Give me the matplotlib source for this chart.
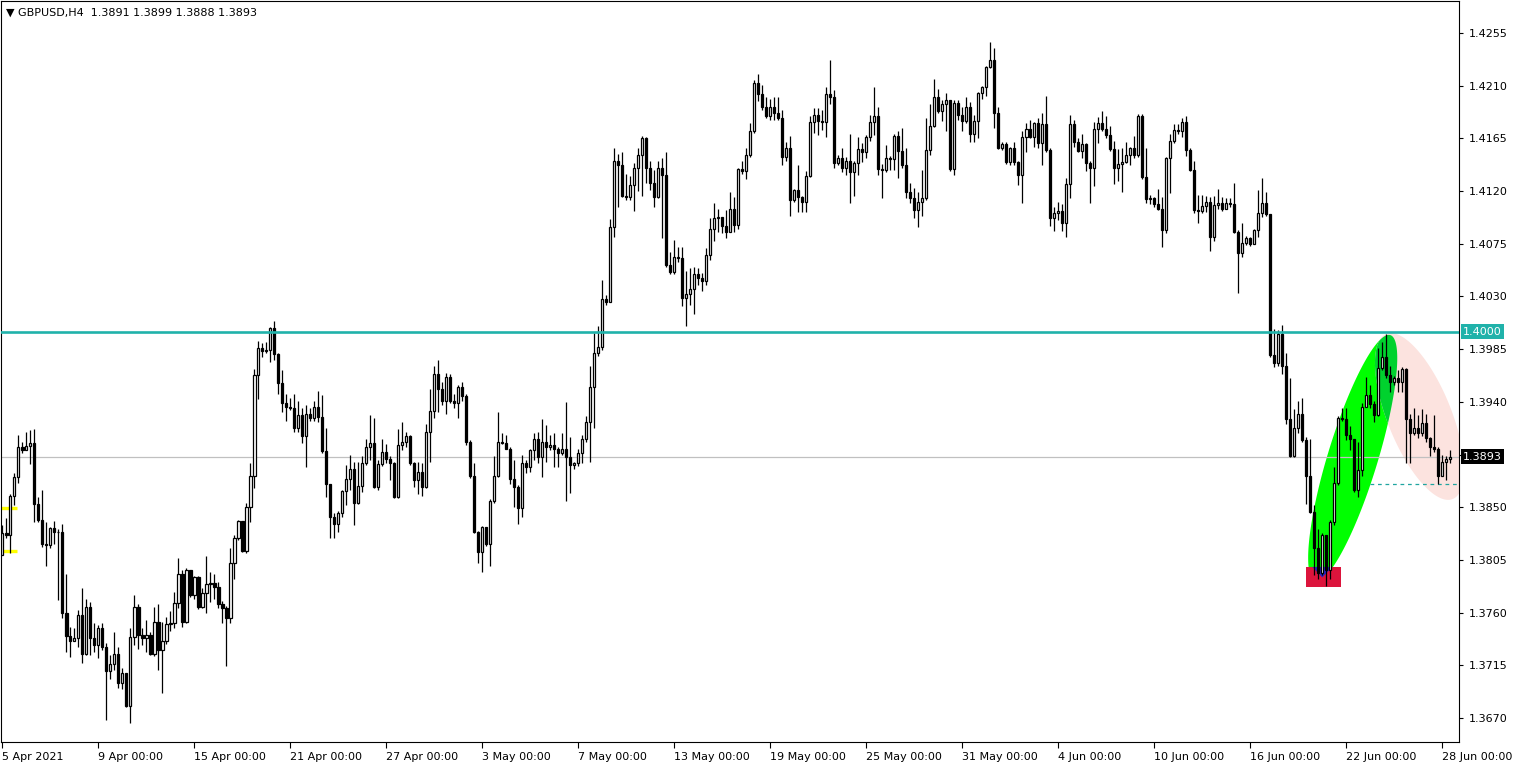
import numpy as np
import matplotlib
matplotlib.use("Agg")
import matplotlib.pyplot as plt
from matplotlib.patches import Polygon, Rectangle
import matplotlib.transforms as mtransforms

# ---------------- data (prices in units of 0.0001) ----------------
symbol = "GBPUSD,H4"
header_ohlc = ["1.3891", "1.3899", "1.3888", "1.3893"]
first_open = 13809

closes = [
13828,13826,13860,13876,13901,13899,13902,13905,13853,13839,
13819,13818,13832,13829,13829,13760,13740,13736,13738,13758,
13725,13765,13738,13732,13747,13731,13710,13716,13725,13700,
13708,13680,13739,13765,13741,13738,13741,13725,13752,13728,
13736,13750,13751,13768,13793,13752,13796,13775,13790,13765,
13777,13784,13785,13782,13767,13764,13755,13802,13824,13838,
13813,13850,13877,13963,13986,13983,13984,14003,13981,13956,
13939,13936,13935,13918,13929,13911,13930,13926,13936,13927,
13898,13870,13842,13836,13845,13864,13874,13883,13854,13868,
13888,13901,13905,13867,13887,13897,13891,13888,13859,13903,
13906,13911,13888,13873,13880,13867,13914,13932,13964,13951,
13941,13961,13941,13939,13953,13945,13906,13877,13829,13812,
13833,13819,13855,13877,13906,13905,13900,13874,13867,13849,
13888,13884,13899,13908,13893,13906,13901,13903,13900,13896,
13900,13893,13886,13888,13896,13908,13923,13953,13982,13987,
14028,14025,14089,14146,14142,14116,14115,14125,14140,14151,
14165,14140,14127,14115,14140,14134,14057,14051,14064,14063,
14029,14032,14036,14049,14046,14043,14065,14088,14097,14098,
14090,14085,14105,14091,14139,14137,14151,14171,14212,14203,
14192,14184,14192,14187,14182,14149,14157,14112,14121,14115,
14111,14133,14179,14185,14180,14179,14203,14200,14144,14148,
14140,14146,14136,14144,14156,14153,14166,14179,14184,14139,
14138,14148,14147,14167,14154,14142,14119,14114,14104,14111,
14114,14155,14176,14200,14188,14194,14198,14139,14195,14185,
14180,14192,14169,14180,14204,14209,14226,14232,14187,14157,
14160,14145,14157,14145,14134,14166,14173,14166,14178,14161,
14177,14155,14097,14101,14103,14093,14126,14177,14162,14154,
14160,14144,14140,14173,14178,14173,14168,14156,14140,14143,
14145,14151,14157,14151,14184,14132,14113,14114,14109,14105,
14087,14148,14163,14172,14171,14179,14155,14138,14104,14103,
14107,14111,14081,14108,14110,14105,14110,14109,14085,14067,
14076,14080,14075,14087,14101,14110,14100,13980,13973,13998,
13971,13925,13894,13918,13930,13907,13877,13846,13815,13794,
13826,13796,13837,13871,13926,13925,13912,13908,13865,13882,
13936,13946,13938,13929,13969,13978,13963,13957,13960,13957,
13968,13925,13913,13918,13913,13922,13909,13901,13900,13877,
13889,13891,13893]

highs = [
13835,13841,13861,13879,13912,13906,13914,13916,13917,13859,
13865,13837,13833,13838,13831,13836,13793,13748,13747,13762,
13781,13772,13769,13751,13749,13751,13734,13724,13743,13731,
13713,13708,13747,13775,13767,13747,13754,13743,13765,13767,
13752,13756,13761,13778,13807,13796,13798,13796,13791,13791,
13781,13808,13795,13793,13786,13770,13766,13815,13826,13839,
13835,13854,13888,13968,13992,13990,13991,14004,14009,13982,
13967,13947,13943,13947,13941,13935,13937,13935,13941,13949,
13946,13918,13870,13845,13847,13865,13886,13895,13889,13889,
13894,13908,13929,13926,13890,13908,13904,13894,13889,13917,
13923,13914,13912,13889,13889,13888,13921,13951,13971,13976,
13957,13965,13964,13947,13954,13957,13947,13907,13888,13830,
13834,13833,13857,13894,13931,13913,13912,13901,13890,13869,
13895,13890,13900,13913,13914,13925,13920,13912,13913,13901,
13913,13940,13910,13889,13900,13912,13928,13971,13999,14005,
14044,14031,14096,14157,14152,14153,14135,14133,14144,14157,
14167,14166,14146,14138,14146,14148,14153,14068,14078,14072,
14072,14052,14054,14055,14054,14050,14071,14097,14110,14105,
14098,14104,14119,14115,14140,14146,14157,14178,14215,14220,
14211,14200,14199,14200,14200,14189,14162,14167,14122,14142,
14116,14137,14184,14191,14191,14189,14209,14232,14206,14151,
14157,14149,14169,14146,14166,14161,14168,14185,14209,14192,
14143,14159,14150,14169,14171,14174,14157,14127,14123,14119,
14138,14182,14194,14216,14207,14198,14204,14198,14198,14198,
14192,14200,14196,14185,14205,14210,14227,14247,14242,14192,
14162,14162,14158,14162,14146,14171,14178,14181,14179,14182,
14187,14201,14157,14106,14111,14109,14131,14185,14181,14165,
14169,14161,14146,14179,14183,14188,14184,14176,14163,14156,
14157,14162,14158,14167,14186,14186,14157,14117,14115,14122,
14115,14149,14169,14177,14177,14182,14184,14157,14146,14117,
14117,14116,14115,14116,14122,14115,14114,14114,14127,14087,
14093,14082,14081,14088,14121,14131,14119,14100,14002,14001,
14006,13982,13960,13934,13941,13943,13910,13908,13852,13831,
13828,13826,13839,13884,13928,13935,13935,13919,13908,13906,
13939,13961,13954,13941,13986,13991,13998,13971,13962,13967,
13970,13969,13930,13935,13929,13934,13930,13910,13929,13901,
13895,13894,13899]

lows = [
13809,13824,13811,13852,13871,13896,13899,13887,13837,13837,
13816,13800,13815,13819,13771,13755,13726,13722,13736,13731,
13717,13724,13724,13726,13721,13728,13668,13703,13711,13696,
13695,13679,13666,13732,13729,13732,13726,13724,13723,13711,
13691,13733,13744,13747,13764,13748,13751,13773,13772,13763,
13764,13760,13769,13772,13764,13751,13714,13751,13789,13822,
13812,13811,13837,13866,13942,13978,13982,13974,13976,13947,
13931,13924,13933,13914,13914,13905,13884,13924,13924,13923,
13896,13859,13824,13824,13829,13842,13852,13865,13835,13853,
13863,13886,13890,13866,13865,13885,13888,13873,13858,13858,
13899,13901,13886,13867,13861,13860,13866,13889,13926,13931,
13937,13930,13939,13935,13926,13941,13903,13875,13828,13802,
13795,13817,13800,13854,13876,13904,13900,13870,13850,13836,
13842,13879,13880,13890,13888,13876,13889,13899,13884,13884,
13895,13855,13862,13883,13885,13888,13906,13889,13918,13979,
13984,14023,14025,14081,14106,14115,14112,14112,14103,14120,
14116,14127,14121,14106,14114,14080,14055,14049,14049,14059,
14022,14005,14023,14015,14040,14035,14040,14061,14077,14085,
14084,14080,14085,14085,14088,14135,14130,14149,14170,14197,
14189,14182,14181,14181,14181,14142,14146,14099,14111,14102,
14102,14102,14132,14170,14168,14172,14166,14194,14140,14142,
14136,14134,14110,14116,14134,14145,14148,14163,14168,14134,
14114,14136,14138,14138,14131,14140,14114,14110,14097,14089,
14099,14112,14151,14175,14187,14180,14171,14137,14134,14181,
14171,14178,14162,14162,14165,14199,14201,14225,14174,14156,
14155,14143,14142,14142,14125,14110,14153,14165,14158,14157,
14142,14153,14090,14086,14095,14086,14081,14114,14158,14153,
14148,14137,14110,14124,14161,14171,14165,14154,14126,14129,
14119,14144,14142,14148,14149,14130,14110,14109,14106,14104,
14072,14084,14118,14161,14169,14166,14150,14137,14101,14093,
14101,14102,14069,14077,14105,14103,14105,14106,14084,14033,
14064,14074,14073,14075,14081,14098,14099,13978,13970,13971,
13964,13921,13893,13893,13913,13906,13853,13845,13792,13789,
13792,13783,13789,13835,13869,13924,13907,13899,13863,13859,
13877,13937,13935,13923,13928,13967,13960,13948,13954,13948,
13948,13888,13888,13912,13909,13911,13906,13894,13897,13870,
13877,13873,13888]

date_labels = ["5 Apr 2021", "9 Apr 00:00", "15 Apr 00:00", "21 Apr 00:00", "27 Apr 00:00",
               "3 May 00:00", "7 May 00:00", "13 May 00:00", "19 May 00:00", "25 May 00:00",
               "31 May 00:00", "4 Jun 00:00", "10 Jun 00:00", "16 Jun 00:00", "22 Jun 00:00",
               "28 Jun 00:00"]
bars_per_label = 24

y_ticks = [1.4255, 1.4210, 1.4165, 1.4120, 1.4075, 1.4030, 1.3985, 1.3940, 1.3895,
           1.3850, 1.3805, 1.3760, 1.3715, 1.3670]
level_main = 1.4000
level_last = 1.3893
level_dash = 1.3870
yellow_levels = [1.3849, 1.3813]

# ---------------- prepare ----------------
n = min(len(closes), len(highs), len(lows))
C = np.array(closes[:n]) / 10000.0
H = np.array(highs[:n]) / 10000.0
L = np.array(lows[:n]) / 10000.0
O = np.concatenate([[first_open / 10000.0], C[:-1]])
idx = np.arange(n)

W, Hpx = 1517, 766
fig = plt.figure(figsize=(W / 100, Hpx / 100), dpi=100)
fig.patch.set_facecolor("white")
ax_l, ax_r, ax_t, ax_b = 1, 1459, 1, 742
ax = fig.add_axes([ax_l / W, 1 - ax_b / Hpx, (ax_r - ax_l) / W, (ax_b - ax_t) / Hpx])
ax.set_facecolor("white")

# pixel scale: 4 px per bar; 52.69 px per 0.0045
PX_PER_BAR = 4.0
PX_PER_PRICE = 52.69 / 0.0045
x0px = 2.3
ax.set_xlim((ax_l - x0px) / PX_PER_BAR, (ax_r - x0px) / PX_PER_BAR)
ax.set_ylim(1.4255 - (ax_b - 33) / PX_PER_PRICE, 1.4255 + (33 - ax_t) / PX_PER_PRICE)


def ellipse_poly(p1, p2, width_px, npts=240):
    a = np.array([p1[0] * PX_PER_BAR, p1[1] * PX_PER_PRICE])
    b = np.array([p2[0] * PX_PER_BAR, p2[1] * PX_PER_PRICE])
    c = (a + b) / 2
    d = b - a
    Ln = np.hypot(*d)
    u = d / Ln
    v = np.array([-u[1], u[0]])
    t = np.linspace(0, 2 * np.pi, npts)
    pts = c + np.outer(np.cos(t), u) * Ln / 2 + np.outer(np.sin(t), v) * width_px / 2
    return np.column_stack([pts[:, 0] / PX_PER_BAR, pts[:, 1] / PX_PER_PRICE])


# ---------------- drawn objects (background) ----------------
green_pts = ellipse_poly((328.2, 1.3787), (347.0, 1.3997), 50)
pink_pts = ellipse_poly((346.0, 1.3998), (362.6, 1.3857), 64)
green = Polygon(green_pts, closed=True, fc="#00FF00", ec="none", zorder=1)
pink = Polygon(pink_pts, closed=True, fc="#FCE3DF", ec="none", zorder=1)
ax.add_patch(green)
ax.add_patch(pink)
overlap = Polygon(green_pts, closed=True, fc="#00D22E", ec="none", zorder=1.2)
ax.add_patch(overlap)
overlap.set_clip_path(pink)

ax.add_patch(Rectangle((325.9, 1.3782), 334.7 - 325.9, 1.3799 - 1.3782,
                       fc="#DC143C", ec="none", zorder=1.3))
ax.add_patch(Polygon([(327.5, 1.3799), (332.5, 1.3799), (330.0, 1.3790)],
                     closed=True, fc="#2424C8", ec="none", zorder=1.4))

for yl in yellow_levels:
    ax.plot([-0.6, 3.6], [yl, yl], color="#FFFF00", lw=2.4, zorder=1.5,
            solid_capstyle="butt")

ax.axhline(level_last, color="#C0C0C0", lw=0.9, zorder=1.6)
ax.plot([342, 364.5], [level_dash, level_dash], color="#1FA5A0", lw=0.9,
        dashes=(3, 3), zorder=1.6)

# ---------------- candles ----------------
ax.vlines(idx, L, H, color="black", lw=0.9, zorder=3)
bull = C >= O
body_w = 0.6
ax.bar(idx[bull], C[bull] - O[bull], bottom=O[bull], width=body_w,
       color="white", edgecolor="black", linewidth=0.9, zorder=4)
ax.bar(idx[~bull], C[~bull] - O[~bull], bottom=O[~bull], width=body_w,
       color="black", edgecolor="black", linewidth=0.9, zorder=4)

ax.axhline(level_main, color="#20B2AA", lw=1.9, zorder=5)

# ---------------- axes styling ----------------
for s in ax.spines.values():
    s.set_color("black")
    s.set_linewidth(0.8)

ax.yaxis.tick_right()
ax.set_yticks(y_ticks)
ax.set_yticklabels(["" if abs(v - 1.3895) < 1e-9 else f"{v:.4f}" for v in y_ticks])
ax.tick_params(axis="y", which="both", direction="out", length=3, width=0.8,
               labelsize=8, pad=4, colors="black")

xt = [i * bars_per_label for i in range(len(date_labels))]
ax.set_xticks(xt)
ax.set_xticklabels(date_labels)
ax.tick_params(axis="x", direction="out", length=4, width=0.8, labelsize=8, pad=3)
for lab in ax.get_xticklabels():
    lab.set_horizontalalignment("left")

# price boxes on the axis
trans = mtransforms.blended_transform_factory(ax.transAxes, ax.transData)
ax.text(1.0 + 4 / 1458, level_main, f"{level_main:.4f}", transform=trans, ha="left",
        va="center", fontsize=8, color="white", zorder=10, clip_on=False,
        bbox=dict(boxstyle="square,pad=0.22", fc="#20B2AA", ec="none"))
ax.text(1.0 + 4 / 1458, level_last, f"{level_last:.4f}", transform=trans, ha="left",
        va="center", fontsize=8, color="white", zorder=10, clip_on=False,
        bbox=dict(boxstyle="square,pad=0.22", fc="black", ec="none"))

fig.text(6 / W, 1 - 13 / Hpx, "\u25BC " + symbol + "  " + " ".join(header_ohlc),
         fontsize=8, ha="left", va="center", color="black")

fig.savefig("out.png", dpi=100, facecolor="white")
